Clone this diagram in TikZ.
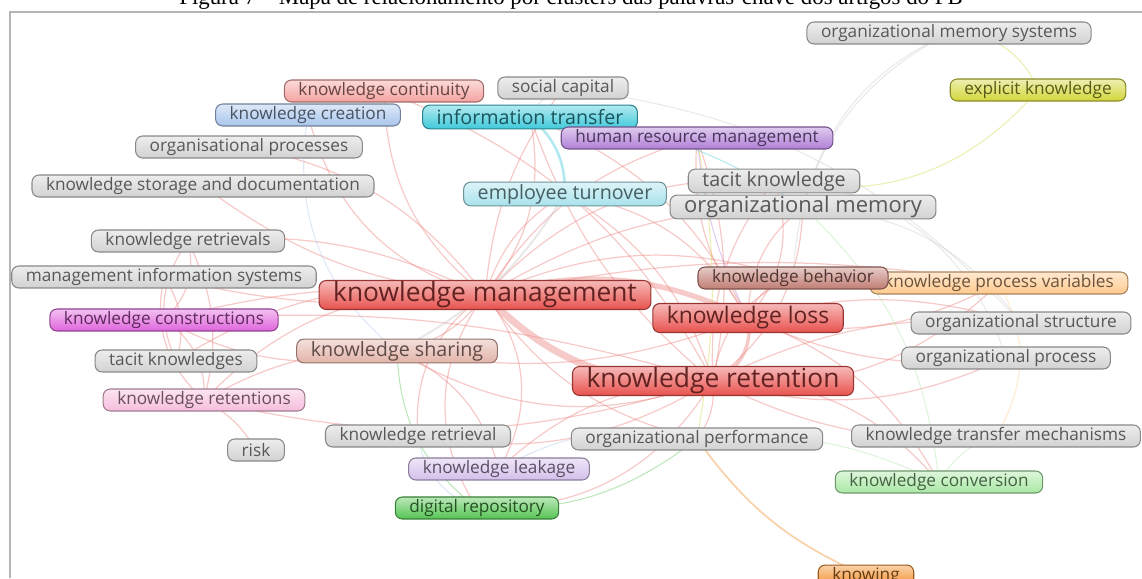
\documentclass[tikz,border=0pt]{standalone}
\usepackage{fontspec}
\setmainfont{Liberation Serif}
\newfontfamily\mapfont{Open Sans}
\usepackage{tikz}
\usetikzlibrary{
    backgrounds,
    positioning
}
\definecolor{kwred}{HTML}{E8524E}
\definecolor{kwgray}{HTML}{D2D2D2}
\definecolor{kwyellow}{HTML}{D3D63A}
\definecolor{kwsalmon}{HTML}{F4A3A0}
\definecolor{kwblue}{HTML}{A9C6EC}
\definecolor{kwcyan}{HTML}{3FC9DA}
\definecolor{kwpurple}{HTML}{B07FD6}
\definecolor{kwlcyan}{HTML}{A8E2EC}
\definecolor{kwbrown}{HTML}{C07D74}
\definecolor{kwpeach}{HTML}{FFC98C}
\definecolor{kwmagenta}{HTML}{E065DC}
\definecolor{kwtan}{HTML}{E2B3A8}
\definecolor{kwpink}{HTML}{F6BDDC}
\definecolor{kwlavender}{HTML}{D4BFEB}
\definecolor{kwlgreen}{HTML}{A9E8A4}
\definecolor{kwgreen}{HTML}{55C452}
\definecolor{kworange}{HTML}{F28E2B}
\definecolor{kwlink}{HTML}{EC8A86}
\definecolor{kwgraylink}{HTML}{C8C8C8}
\definecolor{framegray}{HTML}{B4B4B4}
\tikzstyle{keyword}=[
    rectangle,
    rounded corners=4pt,
    inner xsep=8pt,
    inner ysep=0pt,
    minimum height=12.5pt,
    line width=0.6pt,
    font=\mapfont\fontsize{9.8}{11}\selectfont
]
\tikzstyle{link}=[line width=0.7pt,draw=kwlink,opacity=0.45]

\begin{document}
\begin{tikzpicture}[
    x=0.02cm,y=-0.02cm,
    tint/.style={top color=#1!40!white,bottom color=#1,draw=#1!65!black,text=#1!42!black},
    big/.style={font=\mapfont\fontsize{15}{16}\selectfont,minimum height=16.5pt},
    mid/.style={font=\mapfont\fontsize{11.2}{12}\selectfont,minimum height=13.5pt},
    glink/.style={line width=0.6pt,draw=#1,opacity=0.4}
]
\useasboundingbox (0,0) rectangle (1142,578);
\node[anchor=base,font=\fontsize{13}{15}\selectfont] (title) at (571,5)
{Figura 7 -- Mapa de relacionamento por clusters das palavras-chave dos artigos do PB};
\draw[framegray,line width=1pt] (10,578) -- (10,12) -- (1142,12);
% keywords
\node[keyword,tint=kwgray] (memsystems) at (949,33) {organizational memory systems};
\node[keyword,tint=kwyellow] (explicit) at (1038,90) {explicit knowledge};
\node[keyword,tint=kwsalmon] (continuity) at (384,91) {knowledge continuity};
\node[keyword,tint=kwgray] (social) at (563,88) {social capital};
\node[keyword,tint=kwblue] (creation) at (308,115) {knowledge creation};
\node[keyword,mid,tint=kwcyan] (transfer) at (530,117) {information transfer};
\node[keyword,tint=kwpurple] (hrm) at (697,138) {human resource management};
\node[keyword,tint=kwgray] (orgproc) at (249,147) {organisational processes};
\node[keyword,tint=kwgray] (storage) at (203,186) {knowledge storage and documentation};
\node[keyword,mid,tint=kwlcyan] (turnover) at (565,194) {employee turnover};
\node[keyword,mid,tint=kwgray] (tacit) at (774,181) {tacit knowledge};
\node[keyword,mid,tint=kwgray,font=\mapfont\fontsize{12.5}{13}\selectfont] (orgmemory) at (803,207) {organizational memory};
\node[keyword,tint=kwgray] (retrievals) at (188,241) {knowledge retrievals};
\node[keyword,tint=kwgray] (mis) at (164,277) {management information systems};
\node[keyword,big,tint=kwred] (management) at (485,295) {knowledge management};
\node[keyword,tint=kwpeach] (variables) at (999,283) {knowledge process variables};
\node[keyword,tint=kwbrown] (behavior) at (793,278) {knowledge behavior};
\node[keyword,big,tint=kwred,font=\mapfont\fontsize{13}{14}\selectfont] (loss) at (748,318) {knowledge loss};
\node[keyword,tint=kwmagenta] (constructions) at (164,320) {knowledge constructions};
\node[keyword,tint=kwgray] (structure) at (1021,323) {organizational structure};
\node[keyword,mid,tint=kwtan] (sharing) at (397,351) {knowledge sharing};
\node[keyword,tint=kwgray] (tacits) at (176,361) {tacit knowledges};
\node[keyword,tint=kwgray] (process) at (1006,358) {organizational process};
\node[keyword,big,tint=kwred] (retention) at (713,381) {knowledge retention};
\node[keyword,tint=kwpink] (retentions) at (204,400) {knowledge retentions};
\node[keyword,tint=kwgray] (risk) at (256,450) {risk};
\node[keyword,tint=kwgray] (retrieval) at (418,436) {knowledge retrieval};
\node[keyword,tint=kwgray] (performance) at (697,439) {organizational performance};
\node[keyword,tint=kwgray] (mechanisms) at (996,436) {knowledge transfer mechanisms};
\node[keyword,tint=kwlavender] (leakage) at (499,469) {knowledge leakage};
\node[keyword,tint=kwlgreen] (conversion) at (939,482) {knowledge conversion};
\node[keyword,tint=kwgreen] (repository) at (477,508) {digital repository};
\node[keyword,tint=kworange] (knowing) at (866,576) {knowing};
% links
\begin{scope}[on background layer]
\draw[link,line width=4pt] (management.center) to[bend right=25] (retention.center);
\draw[link,line width=3pt] (management.center) to[bend left=20] (loss.center);
\draw[link,line width=2pt] (loss.center) to[bend left=40] (retention.center);
\draw[link] (management.center) to[bend left=25] (continuity.center);
\draw[link] (management.center) to[bend left=30] (creation.center);
\draw[link] (management.center) to[bend right=20] (orgproc.center);
\draw[link] (management.center) to[bend left=15] (storage.center);
\draw[link] (management.center) to[bend right=15] (retrievals.center);
\draw[link] (management.center) to[bend left=10] (mis.center);
\draw[link] (management.center) to[bend right=10] (constructions.center);
\draw[link] (management.center) to[bend right=20] (tacits.center);
\draw[link] (management.center) to[bend right=25] (retentions.center);
\draw[link] (management.center) to[bend left=20] (sharing.center);
\draw[link] (management.center) to[bend right=30] (retrieval.center);
\draw[link] (management.center) to[bend left=35] (leakage.center);
\draw[link] (management.center) to[bend right=35] (repository.center);
\draw[link] (management.center) to[bend left=20] (turnover.center);
\draw[link] (management.center) to[bend right=25] (transfer.center);
\draw[link] (management.center) to[bend left=15] (social.center);
\draw[link] (management.center) to[bend left=20] (hrm.center);
\draw[link] (management.center) to[bend left=25] (tacit.center);
\draw[link] (management.center) to[bend left=15] (orgmemory.center);
\draw[link] (management.center) to[bend left=20] (behavior.center);
\draw[link] (management.center) to[bend right=20] (performance.center);
\draw[link] (management.center) to[bend left=10] (variables.center);
\draw[link] (retention.center) to[bend left=25] (sharing.center);
\draw[link] (retention.center) to[bend right=20] (turnover.center);
\draw[link] (retention.center) to[bend right=25] (orgmemory.center);
\draw[link] (retention.center) to[bend left=20] (tacit.center);
\draw[link] (retention.center) to[bend right=15] (hrm.center);
\draw[link] (retention.center) to[bend left=20] (performance.center);
\draw[link] (retention.center) to[bend right=15] (mechanisms.center);
\draw[link] (retention.center) to[bend left=25] (conversion.center);
\draw[link] (retention.center) to[bend right=20] (leakage.center);
\draw[link] (retention.center) to[bend left=30] (repository.center);
\draw[link] (retention.center) to[bend left=20] (retrieval.center);
\draw[link] (retention.center) to[bend left=15] (retentions.center);
\draw[link] (retention.center) to[bend right=10] (constructions.center);
\draw[link] (retention.center) to[bend right=20] (process.center);
\draw[link] (retention.center) to[bend left=15] (structure.center);
\draw[link] (retention.center) to[bend right=25] (variables.center);
\draw[link] (retention.center) to[bend left=30] (behavior.center);
\draw[link] (retention.center) to[bend right=20] (continuity.center);
\draw[link] (retention.center) to[bend left=15] (transfer.center);
\draw[link] (loss.center) to[bend left=25] (orgmemory.center);
\draw[link] (loss.center) to[bend right=30] (tacit.center);
\draw[link] (loss.center) to[bend right=25] (turnover.center);
\draw[link] (loss.center) to[bend left=30] (behavior.center);
\draw[link] (loss.center) to[bend left=15] (structure.center);
\draw[link] (loss.center) to[bend right=20] (variables.center);
\draw[link] (loss.center) to[bend right=15] (process.center);
\draw[link] (loss.center) to[bend right=20] (transfer.center);
\draw[link] (loss.center) to[bend left=20] (hrm.center);
\draw[link] (loss.center) to[bend left=15] (sharing.center);
\draw[link] (loss.center) to[bend left=20] (conversion.center);
\draw[link] (retrievals.center) to[bend left=30] (constructions.center);
\draw[link] (retrievals.center) to[bend right=30] (tacits.center);
\draw[link] (retrievals.center) to[bend left=20] (retentions.center);
\draw[link] (mis.center) to[bend right=30] (retentions.center);
\draw[link] (mis.center) to[bend left=25] (tacits.center);
\draw[link] (constructions.center) to[bend left=30] (retentions.center);
\draw[link] (risk.center) to[bend right=15] (retentions.center);
\draw[link] (sharing.center) to[bend left=20] (constructions.center);
\draw[link] (sharing.center) to[bend right=15] (retentions.center);
\draw[link] (sharing.center) to[bend left=25] (leakage.center);
\draw[glink=kwcyan,line width=1.5pt] (transfer.center) to[bend left=25] (turnover.center);
\draw[glink=kwcyan] (transfer.center) to[bend left=15] (orgmemory.center);
\draw[glink=kwgraylink] (social.center) to[bend right=20] (transfer.center);
\draw[glink=kwgraylink] (social.center) to[bend left=20] (structure.center);
\draw[glink=kwgraylink,line width=1.2pt] (turnover.center) to[bend left=15] (sharing.center);
\draw[glink=kwyellow] (explicit.center) to[bend left=30] (tacit.center);
\draw[glink=kwyellow] (explicit.center) to[bend right=35] (memsystems.center);
\draw[glink=kwyellow] (hrm.center) to[bend left=10] (performance.center);
\draw[glink=kwpurple] (hrm.center) to[bend right=10] (loss.center);
\draw[glink=kwgraylink] (memsystems.center) to[bend right=25] (orgmemory.center);
\draw[glink=kwgraylink] (memsystems.center) to[bend right=30] (behavior.center);
\draw[glink=kwgraylink] (orgmemory.center) to[bend left=25] (structure.center);
\draw[glink=kwgraylink] (tacit.center) to[bend left=35] (process.center);
\draw[glink=kwpeach] (variables.center) to[bend left=30] (mechanisms.center);
\draw[glink=kwlgreen] (conversion.center) to[bend left=20] (mechanisms.center);
\draw[glink=kwlgreen] (conversion.center) to[bend right=15] (performance.center);
\draw[glink=kwlgreen] (conversion.center) to[bend right=20] (orgmemory.center);
\draw[glink=kworange,line width=1pt] (knowing.center) to[bend left=15] (performance.center);
\draw[glink=kwgreen] (repository.center) to[bend right=20] (performance.center);
\draw[glink=kwblue] (repository.center) to[bend left=30] (retrieval.center);
\draw[glink=kwgreen] (repository.center) to[bend left=25] (sharing.center);
\draw[glink=kwblue] (leakage.center) to[bend left=20] (performance.center);
\draw[glink=kwblue] (creation.center) to[bend right=30] (sharing.center);
\end{scope}
\end{tikzpicture}
\end{document}
